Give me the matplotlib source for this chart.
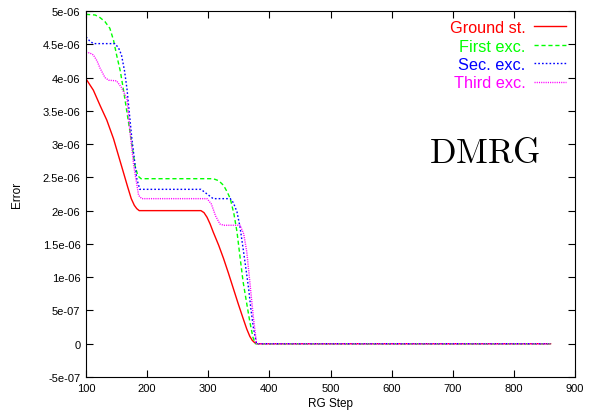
import matplotlib
matplotlib.use("Agg")
import matplotlib.pyplot as plt
from matplotlib.ticker import FixedLocator, FixedFormatter

# ---- data ----
x_ground = [100, 112, 123, 134, 145, 153, 161, 168, 174, 179, 183, 187, 288, 293, 298, 303, 308, 317, 325, 333, 341, 349, 357, 363, 368, 372, 376, 380, 860]
y_ground = [3.98e-6, 3.81e-6, 3.58e-6, 3.36e-6, 3.08e-6, 2.83e-6, 2.58e-6, 2.36e-6, 2.18e-6, 2.08e-6, 2.03e-6, 2.00e-6,
            2.00e-6, 1.97e-6, 1.90e-6, 1.80e-6, 1.68e-6, 1.48e-6, 1.28e-6, 1.06e-6, 0.83e-6, 0.60e-6, 0.38e-6, 0.22e-6, 0.11e-6, 0.05e-6, 0.015e-6, 0.0, 0.0]

x_first = [100, 115, 123, 131, 139, 145, 150, 156, 161, 172, 180, 185, 190, 308, 317, 325, 331, 336, 342, 347, 352, 357, 363, 368, 373, 377, 860]
y_first = [4.95e-6, 4.94e-6, 4.90e-6, 4.84e-6, 4.74e-6, 4.56e-6, 4.34e-6, 4.10e-6, 3.83e-6, 3.18e-6, 2.68e-6, 2.52e-6, 2.48e-6,
           2.48e-6, 2.45e-6, 2.38e-6, 2.28e-6, 2.18e-6, 1.95e-6, 1.68e-6, 1.30e-6, 0.93e-6, 0.60e-6, 0.33e-6, 0.10e-6, 0.0, 0.0]

x_second = [100, 106, 112, 147, 153, 158, 163, 167, 175, 183, 188, 288, 298, 308, 336, 341, 347, 352, 357, 362, 366, 370, 374, 379, 860]
y_second = [4.61e-6, 4.55e-6, 4.51e-6, 4.51e-6, 4.45e-6, 4.34e-6, 4.10e-6, 3.83e-6, 3.08e-6, 2.48e-6, 2.32e-6,
            2.32e-6, 2.25e-6, 2.18e-6, 2.18e-6, 2.12e-6, 1.98e-6, 1.75e-6, 1.43e-6, 1.10e-6, 0.83e-6, 0.50e-6, 0.23e-6, 0.0, 0.0]

x_third = [100, 106, 112, 118, 123, 131, 137, 150, 158, 167, 172, 178, 186, 191, 298, 305, 312, 319, 325, 352, 358, 363, 368, 371, 374, 379, 860]
y_third = [4.38e-6, 4.37e-6, 4.34e-6, 4.25e-6, 4.14e-6, 4.00e-6, 3.96e-6, 3.95e-6, 3.85e-6, 3.68e-6, 3.18e-6, 2.68e-6, 2.23e-6, 2.18e-6,
           2.18e-6, 2.10e-6, 1.92e-6, 1.80e-6, 1.78e-6, 1.78e-6, 1.65e-6, 1.38e-6, 0.93e-6, 0.65e-6, 0.38e-6, 0.0, 0.0]

labels = ["Ground st.", "First exc.", "Sec. exc.", "Third exc."]
colors = ["#ff0000", "#00ff00", "#0000ff", "#ff00ff"]

x_ticks = [100, 200, 300, 400, 500, 600, 700, 800, 900]
y_ticks = [-5e-7, 0, 5e-7, 1e-6, 1.5e-6, 2e-6, 2.5e-6, 3e-6, 3.5e-6, 4e-6, 4.5e-6, 5e-6]
y_tick_labels = ["-5e-07", "0", "5e-07", "1e-06", "1.5e-06", "2e-06", "2.5e-06",
                 "3e-06", "3.5e-06", "4e-06", "4.5e-06", "5e-06"]

plt.rcParams['font.family'] = ['Liberation Sans', 'DejaVu Sans']
plt.rcParams['mathtext.fontset'] = 'cm'

fig = plt.figure(figsize=(5.9, 4.14), dpi=100)
ax = fig.add_axes([0.1458, 0.087, 0.8288, 0.884])

series = [(x_ground, y_ground), (x_first, y_first), (x_second, y_second), (x_third, y_third)]
styles = ["-", (0, (3, 2)), (0, (1.2, 1.5)), (0, (0.8, 0.8))]
for (xs, ys), lab, col, ls in zip(series, labels, colors, styles):
    ax.plot(xs, ys, color=col, linestyle=ls, linewidth=1.0, label=lab)

ax.set_xlim(100, 900)
ax.set_ylim(-5e-7, 5e-6)
ax.xaxis.set_major_locator(FixedLocator(x_ticks))
ax.yaxis.set_major_locator(FixedLocator(y_ticks))
ax.yaxis.set_major_formatter(FixedFormatter(y_tick_labels))
ax.tick_params(direction='in', top=True, right=True, length=5, width=0.8, labelsize=8, pad=4)
for sp in ax.spines.values():
    sp.set_linewidth(0.8)

ax.set_xlabel("RG Step", fontsize=8.5, labelpad=3)
ax.set_ylabel("Error", fontsize=8.5, labelpad=14)

leg = ax.legend(loc='upper right', markerfirst=False, frameon=False, fontsize=11.7,
                labelcolor='linecolor', handlelength=2.0, handletextpad=0.5,
                labelspacing=0.21, borderaxespad=0.0, borderpad=0.0,
                bbox_to_anchor=(0.9816, 0.975))
for t in leg.get_texts():
    t.set_ha('right')

ax.text(753, 2.88e-6, r"$\mathrm{DMRG}$", fontsize=25, ha='center', va='center')

fig.savefig("out.png", dpi=100)
